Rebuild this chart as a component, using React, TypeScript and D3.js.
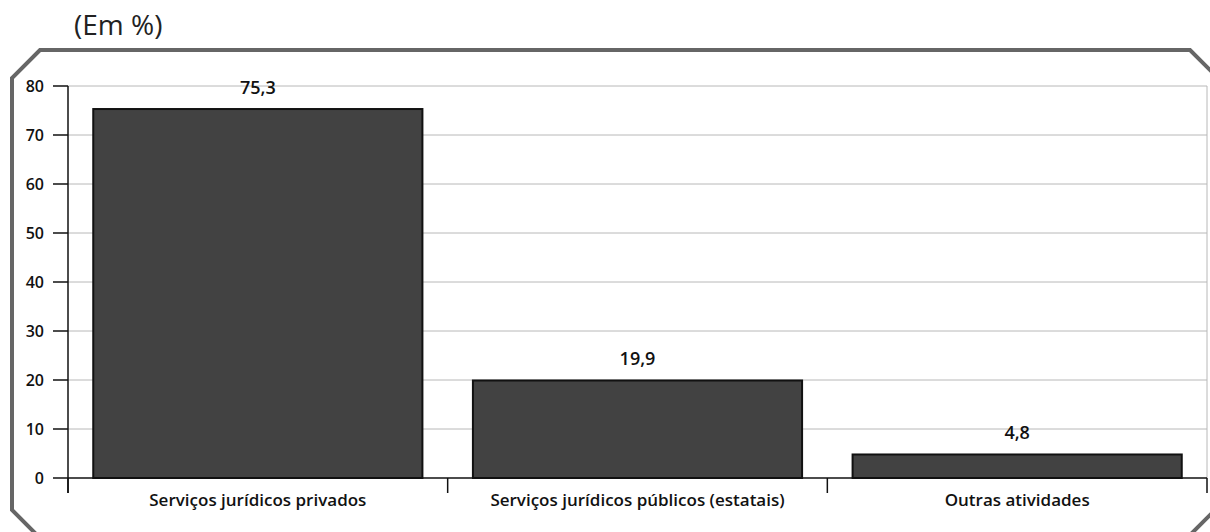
import React from "react";
import * as d3 from "d3";

const categories = [
  "Serviços jurídicos privados",
  "Serviços jurídicos públicos (estatais)",
  "Outras atividades",
];
const values = [75.3, 19.9, 4.8];
const valueLabels = ["75,3", "19,9", "4,8"];
const yTicks = [0, 10, 20, 30, 40, 50, 60, 70, 80];
const unitLabel = "(Em %)";

const W = 1210;
const H = 532;
const FONT = "'Open Sans', 'Noto Sans', sans-serif";

export default function App() {
  const left = 68;
  const right = 1207;
  const top = 86;
  const bottom = 478;

  const x = d3
    .scaleBand<string>()
    .domain(categories)
    .range([left, right])
    .paddingInner(0.133)
    .paddingOuter(0.0665);
  const y = d3.scaleLinear().domain([0, 80]).range([bottom, top]);

  const frame = [
    [40, 50],
    [1190, 50],
    [1220, 80],
    [1220, 505],
    [1190, 535],
    [37, 535],
    [12, 510],
    [12, 78],
  ];
  const framePath = d3.line()(frame as [number, number][]) + "Z";

  const sepX = [left, ...categories.slice(1).map((c) => (x(c) as number) - (x.step() - x.bandwidth()) / 2), right];

  return (
    <div style={{ position: "absolute", left: 0, top: 0 }}>
      <svg width={W} height={H} style={{ display: "block", background: "#fff" }}>
        <text x={74} y={35} fontFamily={FONT} fontSize={28} fill="#222">
          {unitLabel}
        </text>
        <path d={framePath} fill="none" stroke="#666" strokeWidth={4} />

        {/* gridlines */}
        {yTicks.slice(1).map((t) => (
          <line key={t} x1={left} x2={right} y1={y(t)} y2={y(t)} stroke="#b8b8b8" strokeWidth={1} />
        ))}
        <line x1={right} x2={right} y1={top} y2={bottom} stroke="#b8b8b8" strokeWidth={1} />

        {/* bars */}
        {categories.map((c, i) => (
          <rect
            key={c}
            x={x(c)}
            y={y(values[i])}
            width={x.bandwidth()}
            height={bottom - y(values[i])}
            fill="#424242"
            stroke="#111"
            strokeWidth={2}
          />
        ))}

        {/* value labels */}
        {categories.map((c, i) => (
          <text
            key={c}
            x={(x(c) as number) + x.bandwidth() / 2}
            y={y(values[i]) - 15}
            textAnchor="middle"
            fontFamily={FONT}
            fontSize={18}
            fontWeight={600}
            fill="#111"
          >
            {valueLabels[i]}
          </text>
        ))}

        {/* y axis */}
        <line x1={left} x2={left} y1={top} y2={493} stroke="#111" strokeWidth={1.5} />
        {yTicks.map((t) => (
          <g key={t}>
            <line x1={53} x2={left} y1={y(t)} y2={y(t)} stroke="#111" strokeWidth={1.5} />
            <text
              x={44}
              y={y(t)}
              dy="0.35em"
              textAnchor="end"
              fontFamily={FONT}
              fontSize={16}
              fontWeight={600}
              fill="#111"
            >
              {t}
            </text>
          </g>
        ))}

        {/* x axis */}
        <line x1={left} x2={right} y1={bottom} y2={bottom} stroke="#111" strokeWidth={1.5} />
        {sepX.map((sx, i) => (
          <line key={i} x1={sx} x2={sx} y1={bottom} y2={493} stroke="#111" strokeWidth={1.5} />
        ))}
        {categories.map((c) => (
          <text
            key={c}
            x={(x(c) as number) + x.bandwidth() / 2}
            y={500}
            dy="0.35em"
            textAnchor="middle"
            fontFamily={FONT}
            fontSize={17}
            fontWeight={600}
            fill="#111"
          >
            {c}
          </text>
        ))}
      </svg>
    </div>
  );
}
